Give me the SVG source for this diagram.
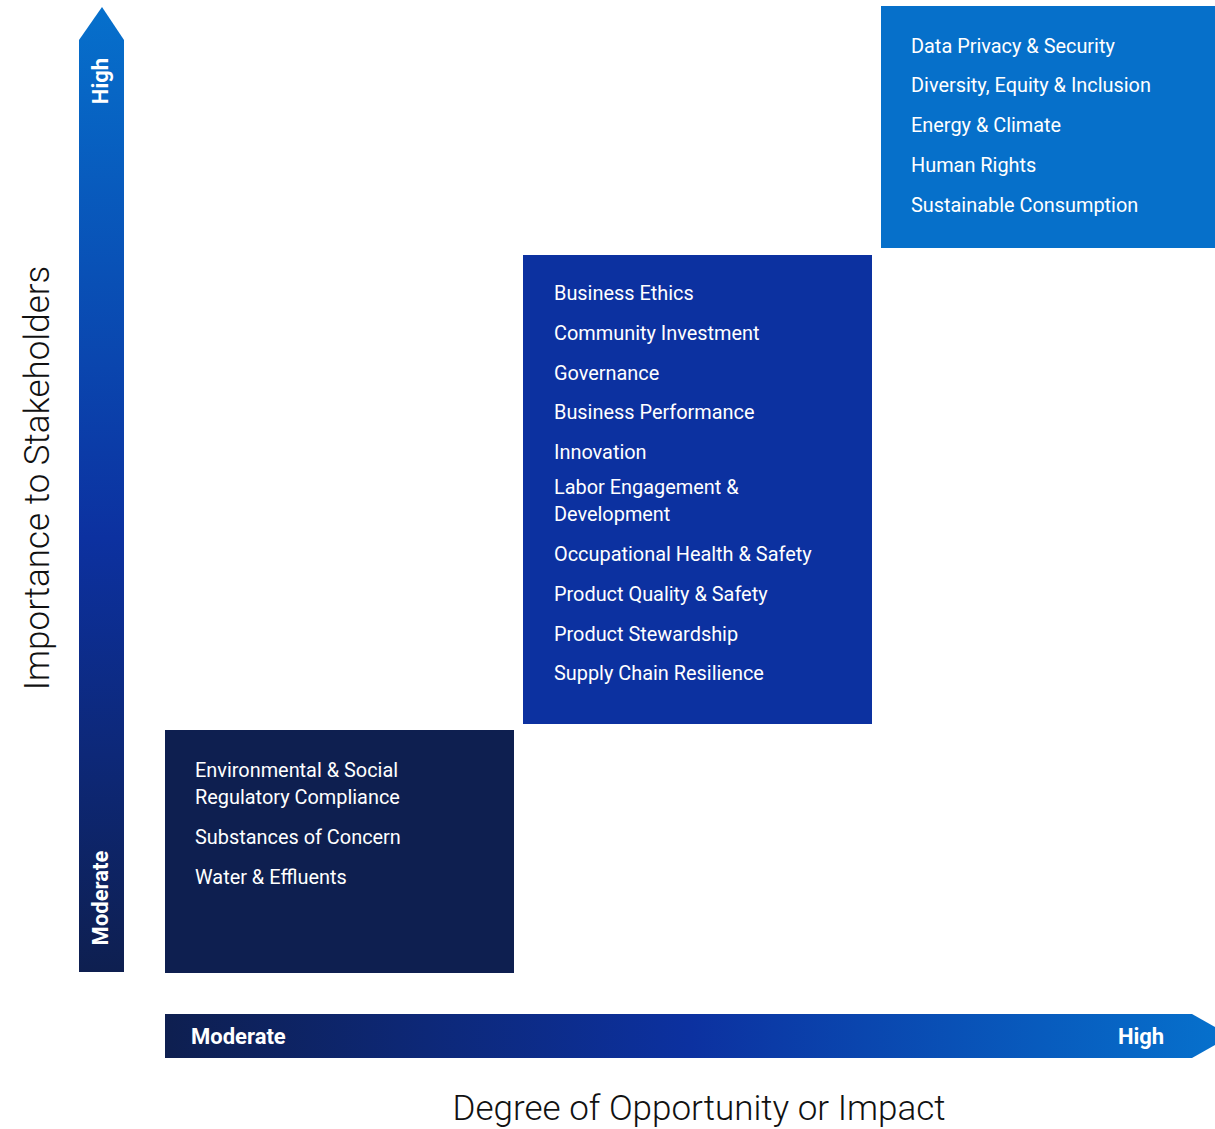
<svg xmlns="http://www.w3.org/2000/svg" width="1215" height="1129" viewBox="0 0 1215 1129">
<defs>
<linearGradient id="gv" x1="0" y1="1" x2="0" y2="0">
<stop offset="0" stop-color="#0E1F50"/>
<stop offset="0.45" stop-color="#0C31A0"/>
<stop offset="1" stop-color="#0670CC"/>
</linearGradient>
<linearGradient id="gh" x1="0" y1="0" x2="1" y2="0">
<stop offset="0" stop-color="#0E1F50"/>
<stop offset="0.5" stop-color="#0C31A0"/>
<stop offset="1" stop-color="#0670CC"/>
</linearGradient>
<style>
.t{font-family:Roboto,"Liberation Sans",sans-serif;font-size:19.9px;fill:#ffffff}
.ax{font-family:Roboto,"Liberation Sans",sans-serif;font-size:22px;font-weight:bold;fill:#ffffff}
.ttl{font-family:Roboto,"Liberation Sans",sans-serif;font-size:35px;font-weight:300;fill:#111111}
</style>
</defs>
<g id="axis-y">
<polygon points="79,972 79,40 102,7 124,40 124,972" fill="url(#gv)"/>
<text class="ax" transform="translate(108,81) rotate(-90)" text-anchor="middle">High</text>
<text class="ax" transform="translate(108,898) rotate(-90)" text-anchor="middle">Moderate</text>
<text class="ttl" transform="translate(49,478) rotate(-90)" text-anchor="middle">Importance to Stakeholders</text>
</g>
<g id="axis-x">
<polygon points="165,1014 1192,1014 1215,1027 1215,1045 1192,1058 165,1058" fill="url(#gh)"/>
<text class="ax" x="191" y="1044">Moderate</text>
<text class="ax" x="1141" y="1044" text-anchor="middle">High</text>
<text class="ttl" x="699" y="1120" text-anchor="middle">Degree of Opportunity or Impact</text>
</g>
<g id="connectors"></g>
<g id="box-high">
<rect x="881" y="6" width="334" height="242" fill="#0670CA"/>
<text class="t" x="911" y="53">Data Privacy &amp; Security</text>
<text class="t" x="911" y="92">Diversity, Equity &amp; Inclusion</text>
<text class="t" x="911" y="132">Energy &amp; Climate</text>
<text class="t" x="911" y="172">Human Rights</text>
<text class="t" x="911" y="212">Sustainable Consumption</text>
</g>
<g id="box-mid">
<rect x="523" y="255" width="349" height="469" fill="#0C31A0"/>
<text class="t" x="554" y="300">Business Ethics</text>
<text class="t" x="554" y="340">Community Investment</text>
<text class="t" x="554" y="380">Governance</text>
<text class="t" x="554" y="419">Business Performance</text>
<text class="t" x="554" y="459">Innovation</text>
<text class="t" x="554" y="494">Labor Engagement &amp;</text>
<text class="t" x="554" y="521">Development</text>
<text class="t" x="554" y="561">Occupational Health &amp; Safety</text>
<text class="t" x="554" y="601">Product Quality &amp; Safety</text>
<text class="t" x="554" y="641">Product Stewardship</text>
<text class="t" x="554" y="680">Supply Chain Resilience</text>
</g>
<g id="box-moderate">
<rect x="165" y="730" width="349" height="243" fill="#0E1F50"/>
<text class="t" x="195" y="777">Environmental &amp; Social</text>
<text class="t" x="195" y="804">Regulatory Compliance</text>
<text class="t" x="195" y="844">Substances of Concern</text>
<text class="t" x="195" y="884">Water &amp; Effluents</text>
</g>
</svg>
